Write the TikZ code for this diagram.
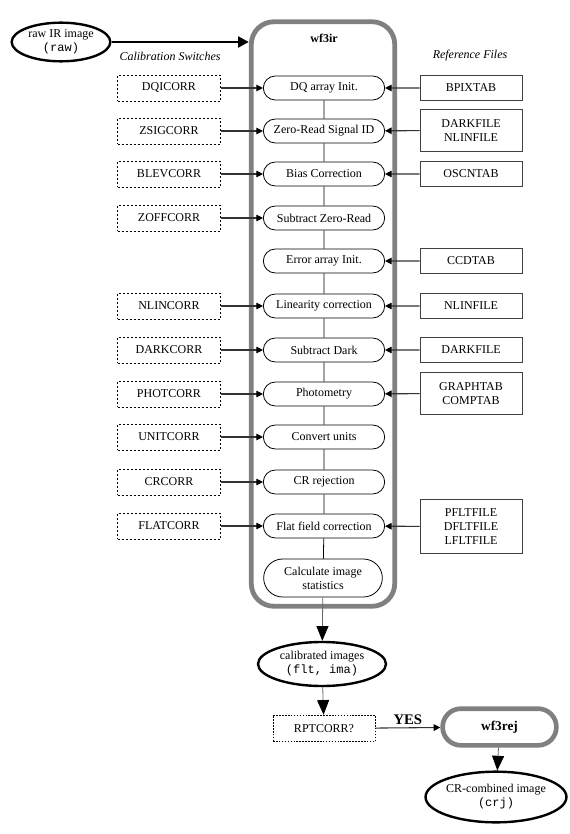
\documentclass[tikz,border=0pt]{standalone}
\usepackage{fontspec}
\setmainfont{Liberation Serif}
\setmonofont{Liberation Mono}
\usetikzlibrary{arrows.meta, shapes.geometric, shapes.misc}

\tikzset{
  proc/.style={draw, line width=0.6pt, rounded rectangle, minimum width=93pt, minimum height=18pt, inner sep=1pt, align=center},
  switchbox/.style={draw, dash pattern=on 1.4pt off 1.6pt, line width=0.5pt, minimum width=77pt, minimum height=19.5pt},
  reffile/.style={draw=black!75, line width=0.75pt, minimum width=76.5pt, minimum height=19pt, align=center, inner sep=1pt},
  imgfile/.style={ellipse, draw, line width=1.8pt, align=center, inner sep=0pt},
  task/.style={draw=black!50, line width=3.5pt, rounded rectangle, font=\bfseries},
  sw/.style={-{Triangle[length=5pt,width=5pt,color=black]}, line width=0.8pt, draw=black!80},
  flow/.style={-{Triangle[length=11pt,width=9pt,color=black]}, line width=0.6pt, draw=black!60},
}

\begin{document}
\begin{tikzpicture}[x=0.75pt, y=-0.75pt, font=\fontsize{9}{10.5}\selectfont]
  \useasboundingbox (0,0) rectangle (569,834);

  % input image and the wf3ir box
  \node[imgfile, minimum width=74pt, minimum height=29pt] (raw) at (61,42) {raw IR image\\\texttt{(raw)}};
  \node[draw=black!50, line width=3.6pt, rounded corners=17pt, minimum width=107.6pt, minimum height=438.4pt] (wf3ir) at (323,314) {};
  \node[font=\fontsize{9}{10.5}\selectfont\bfseries] (title) at (324,38) {wf3ir};
  \draw[-{Triangle[length=8pt,width=8pt]}, line width=2pt] (raw) -- (raw -| wf3ir.west);

  \node[font=\fontsize{9}{10.5}\selectfont\itshape] (swhead) at (170,56) {Calibration Switches};
  \node[font=\fontsize{9}{10.5}\selectfont\itshape] (refhead) at (470,56) {Reference Files};

  % processing steps
  \node[proc] (dq) at (324,88) {DQ array Init.};
  \node[proc] (zsig) at (324,131) {Zero-Read Signal ID};
  \node[proc] (blev) at (324,174) {Bias Correction};
  \node[proc] (zoff) at (324,218) {Subtract Zero-Read};
  \node[proc] (err) at (324,261) {Error array Init.};
  \node[proc] (nlin) at (324,306) {Linearity correction};
  \node[proc] (dark) at (324,350) {Subtract Dark};
  \node[proc] (phot) at (324,394) {Photometry};
  \node[proc] (unit) at (324,437) {Convert units};
  \node[proc] (cr) at (324,482) {CR rejection};
  \node[proc] (flat) at (324,526) {Flat field correction};
  \node[proc, minimum height=28.5pt, minimum width=91pt] (stat) at (323,578) {Calculate image\\statistics};

  \draw[line width=0.6pt] (dq) -- (zsig); \draw[line width=0.6pt] (zsig) -- (blev);
  \draw[line width=0.6pt] (blev) -- (zoff); \draw[line width=0.6pt] (zoff) -- (err);
  \draw[line width=0.6pt] (err) -- (nlin); \draw[line width=0.6pt] (nlin) -- (dark);
  \draw[line width=0.6pt] (dark) -- (phot); \draw[line width=0.6pt] (phot) -- (unit);
  \draw[line width=0.6pt] (unit) -- (cr); \draw[line width=0.6pt] (cr) -- (flat);
  \draw[line width=0.6pt] (flat) -- (stat);

  % calibration switches
  \node[switchbox] (dqicorr) at (169,88) {DQICORR};
  \node[switchbox] (zsigcorr) at (169,131) {ZSIGCORR};
  \node[switchbox] (blevcorr) at (169,174) {BLEVCORR};
  \node[switchbox] (zoffcorr) at (169,218) {ZOFFCORR};
  \node[switchbox] (nlincorr) at (169,306) {NLINCORR};
  \node[switchbox] (darkcorr) at (169,350) {DARKCORR};
  \node[switchbox] (photcorr) at (169,394) {PHOTCORR};
  \node[switchbox] (unitcorr) at (169,437) {UNITCORR};
  \node[switchbox] (crcorr) at (169,482) {CRCORR};
  \node[switchbox] (flatcorr) at (169,526) {FLATCORR};

  \draw[sw] (dqicorr) -- (dq); \draw[sw] (zsigcorr) -- (zsig);
  \draw[sw] (blevcorr) -- (blev); \draw[sw] (zoffcorr) -- (zoff);
  \draw[sw] (nlincorr) -- (nlin); \draw[sw] (darkcorr) -- (dark);
  \draw[sw] (photcorr) -- (phot); \draw[sw] (unitcorr) -- (unit);
  \draw[sw] (crcorr) -- (cr); \draw[sw] (flatcorr) -- (flat);

  % reference files
  \node[reffile] (bpix) at (471,88) {BPIXTAB};
  \node[reffile, minimum height=31pt] (zsigref) at (471,130.5) {DARKFILE\\NLINFILE};
  \node[reffile] (oscn) at (471,174) {OSCNTAB};
  \node[reffile] (ccd) at (471,261) {CCDTAB};
  \node[reffile] (nlinref) at (471,306) {NLINFILE};
  \node[reffile] (darkref) at (471,350) {DARKFILE};
  \node[reffile, minimum height=31pt] (photref) at (471,393.5) {GRAPHTAB\\COMPTAB};
  \node[reffile, minimum height=40pt] (flatref) at (471,526.5) {PFLTFILE\\DFLTFILE\\LFLTFILE};

  \draw[sw] (bpix) -- (dq); \draw[sw] (zsigref) -- (zsig);
  \draw[sw] (oscn) -- (blev); \draw[sw] (ccd) -- (err);
  \draw[sw] (nlinref) -- (nlin); \draw[sw] (darkref) -- (dark);
  \draw[sw] (photref) -- (phot); \draw[sw] (flatref) -- (flat);

  % output and cosmic-ray rejection
  \node[imgfile, minimum width=96pt, minimum height=33pt] (cal) at (322,664) {calibrated images\\\texttt{(flt, ima)}};
  \node[draw, dash pattern=on 1.2pt off 1pt, line width=0.6pt, minimum width=76.5pt, minimum height=20pt] (rpt) at (324,728.5) {RPTCORR?};
  \node[task, minimum width=92pt, minimum height=27.5pt] (rej) at (499.5,727) {wf3rej};
  \node[imgfile, minimum width=79pt, minimum height=38pt] (crj) at (496,797) {CR-combined image\\\texttt{(crj)}};

  \draw[flow] (stat) -- (cal);
  \draw[flow] (cal) -- (rpt);
  \draw[sw] (rpt) -- node[above, font=\fontsize{11}{12}\selectfont\bfseries, yshift=-1pt] {YES} (rej);
  \draw[flow] (rej) -- (crj);
\end{tikzpicture}
\end{document}
